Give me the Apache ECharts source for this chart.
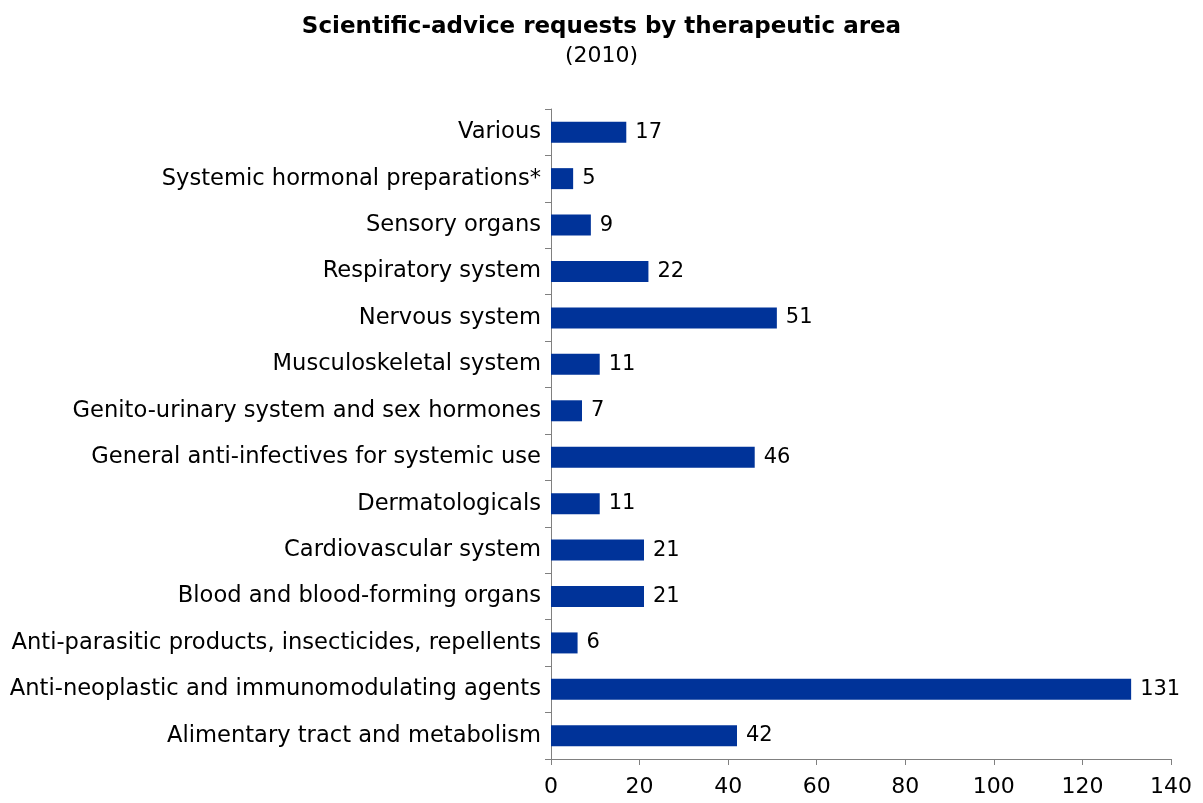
<!DOCTYPE html>
<html>
<head>
<meta charset="utf-8">
<script src="https://cdn.jsdelivr.net/npm/echarts@6/dist/echarts.min.js"></script>
<style>
html, body { margin: 0; padding: 0; background: #fff; }
#chart { width: 1203px; height: 803px; }
</style>
</head>
<body>
<div id="chart"></div>
<script>
// categories, bottom to top
var areas = [
    'Alimentary tract and metabolism',
    'Anti-neoplastic and immunomodulating agents',
    'Anti-parasitic products, insecticides, repellents',
    'Blood and blood-forming organs',
    'Cardiovascular system',
    'Dermatologicals',
    'General anti-infectives for systemic use',
    'Genito-urinary system and sex hormones',
    'Musculoskeletal system',
    'Nervous system',
    'Respiratory system',
    'Sensory organs',
    'Systemic hormonal preparations*',
    'Various'
];

// requests
var requests = [42, 131, 6, 21, 21, 11, 46, 7, 11, 51, 22, 9, 5, 17];

var font = 'DejaVu Sans, Verdana, sans-serif';

var chart = echarts.init(document.getElementById('chart'));

chart.setOption({
    animation: false,
    title: {
        text: 'Scientific-advice requests by therapeutic area',
        subtext: '(2010)',
        left: 'center',
        top: 11,
        itemGap: 6,
        textStyle: { fontFamily: font, fontSize: 23, fontWeight: 'bold', color: '#000' },
        subtextStyle: { fontFamily: font, fontSize: 22, color: '#000' }
    },
    grid: { left: 551, right: 32, top: 109, bottom: 44 },
    xAxis: {
        type: 'value',
        min: 0,
        max: 140,
        interval: 20,
        splitLine: { show: false },
        axisLine: { show: true, lineStyle: { color: '#808080' } },
        axisTick: { show: true, length: 6, lineStyle: { color: '#808080' } },
        axisLabel: { fontFamily: font, fontSize: 22, color: '#000', margin: 17 }
    },
    yAxis: {
        type: 'category',
        data: areas,
        axisLine: { show: true, lineStyle: { color: '#808080' } },
        axisTick: { show: true, length: 6, lineStyle: { color: '#808080' } },
        axisLabel: { fontFamily: font, fontSize: 22.6, color: '#000', margin: 10 }
    },
    series: [{
        type: 'bar',
        data: requests,
        barWidth: 21,
        itemStyle: { color: '#003399' },
        label: {
            show: true,
            position: 'right',
            distance: 9,
            fontFamily: font,
            fontSize: 21,
            color: '#000'
        }
    }]
});
</script>
</body>
</html>
